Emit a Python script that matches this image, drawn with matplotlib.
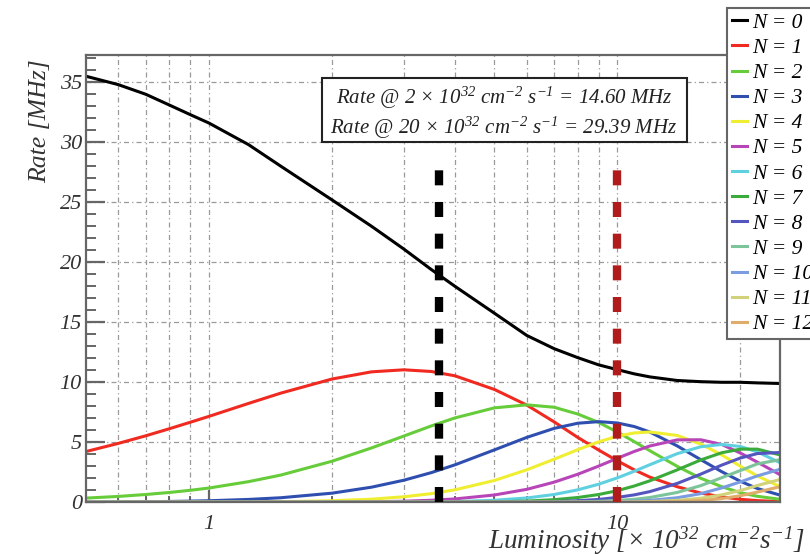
import matplotlib
matplotlib.use('Agg')
import matplotlib.pyplot as plt
from matplotlib.patches import Rectangle
from matplotlib.ticker import FixedLocator, FixedFormatter, NullFormatter

# ---------------- data ----------------
lumi = [0.5, 0.6, 0.7, 0.8, 0.9, 1.0, 1.25, 1.5, 2, 2.5, 3, 3.5, 4, 5, 6, 7, 8, 9,
        10, 11, 12, 14, 16, 18, 20, 22, 25]

rate_n0 = [35.5, 34.8, 34.0, 33.1, 32.3, 31.6, 29.8, 28.0, 25.2, 23.0, 21.1, 19.4, 18.0,
           15.75, 13.9, 12.8, 12.05, 11.45, 11.05, 10.7, 10.45, 10.15, 10.05, 10.0, 10.0, 9.95, 9.9]
rate_n1 = [4.23, 4.91, 5.54, 6.13, 6.67, 7.16, 8.24, 9.10, 10.27, 10.87, 11.04, 10.9, 10.54,
           9.40, 8.10, 6.70, 5.40, 4.35, 3.45, 2.70, 2.10, 1.30, 0.77, 0.45, 0.25, 0.14, 0.06]
rate_n2 = [0.35, 0.49, 0.65, 0.82, 1.0, 1.19, 1.72, 2.27, 3.42, 4.53, 5.52, 6.36, 7.03,
           7.87, 8.12, 7.92, 7.35, 6.65, 5.85, 5.05, 4.30, 3.0, 2.0, 1.3, 0.8, 0.5, 0.25]
rate_n3 = [0.02, 0.03, 0.05, 0.07, 0.10, 0.13, 0.24, 0.38, 0.76, 1.26, 1.84, 2.47, 3.12,
           4.37, 5.41, 6.16, 6.59, 6.72, 6.61, 6.31, 5.86, 4.70, 3.55, 2.55, 1.75, 1.15, 0.6]
rate_n4 = [0, 0, 0, 0, 0.01, 0.01, 0.02, 0.05, 0.13, 0.26, 0.46, 0.72, 1.04,
           1.82, 2.71, 3.59, 4.39, 5.04, 5.51, 5.78, 5.86, 5.57, 4.85, 3.95, 3.0, 2.2, 1.3]
rate_n5 = [0, 0, 0, 0, 0, 0, 0, 0, 0.02, 0.04, 0.09, 0.17, 0.28,
           0.61, 1.08, 1.68, 2.34, 3.02, 3.67, 4.24, 4.69, 5.20, 5.21, 4.82, 4.10, 3.35, 2.3]
rate_n6 = [0, 0, 0, 0, 0, 0, 0, 0, 0, 0.01, 0.02, 0.03, 0.06,
           0.17, 0.36, 0.65, 1.04, 1.51, 2.04, 2.59, 3.13, 4.05, 4.63, 4.82, 4.65, 4.20, 3.3]
rate_n7 = [0, 0, 0, 0, 0, 0, 0, 0, 0, 0, 0, 0.01, 0.01,
           0.04, 0.10, 0.22, 0.40, 0.65, 0.97, 1.36, 1.79, 2.70, 3.53, 4.13, 4.43, 4.43, 3.95]
rate_n8 = [0, 0, 0, 0, 0, 0, 0, 0, 0, 0, 0, 0, 0,
           0.01, 0.03, 0.06, 0.13, 0.24, 0.41, 0.62, 0.89, 1.57, 2.35, 3.10, 3.69, 4.06, 4.15]
rate_n9 = [0, 0, 0, 0, 0, 0, 0, 0, 0, 0, 0, 0, 0,
           0, 0.01, 0.02, 0.04, 0.08, 0.15, 0.25, 0.40, 0.82, 1.39, 2.05, 2.65, 3.2, 3.55]
rate_n10 = [0, 0, 0, 0, 0, 0, 0, 0, 0, 0, 0, 0, 0,
            0, 0, 0, 0.01, 0.02, 0.05, 0.09, 0.16, 0.38, 0.72, 1.2, 1.7, 2.2, 2.75]
rate_n11 = [0, 0, 0, 0, 0, 0, 0, 0, 0, 0, 0, 0, 0,
            0, 0, 0, 0, 0, 0.02, 0.03, 0.06, 0.16, 0.34, 0.62, 0.98, 1.4, 1.9]
rate_n12 = [0, 0, 0, 0, 0, 0, 0, 0, 0, 0, 0, 0, 0,
            0, 0, 0, 0, 0, 0, 0.01, 0.02, 0.06, 0.15, 0.31, 0.55, 0.85, 1.3]

series = [rate_n0, rate_n1, rate_n2, rate_n3, rate_n4, rate_n5, rate_n6,
          rate_n7, rate_n8, rate_n9, rate_n10, rate_n11, rate_n12]
labels = ["N = %d" % i for i in range(13)]
colors = ['#000000', '#f02a20', '#66cc3a', '#2f4fb0', '#f0ee30', '#b845b8', '#5fd0e0',
          '#3aaa3a', '#5555c0', '#7cc49a', '#7a9ce0', '#d2d27a', '#e0ac6a']

marker_lumi = [3.66, 10.0]
marker_colors = ['#000000', '#b01c1c']
marker_top = 27.8

x_major = [1, 10]
x_major_labels = ['1', '10']
x_minor = [0.6, 0.7, 0.8, 0.9, 2, 3, 4, 5, 6, 7, 8, 9, 20]
y_major = [0, 5, 10, 15, 20, 25, 30, 35]

info_lines = [r"Rate @ 2 $\times$ 10$^{32}$ cm$^{-2}$ s$^{-1}$ = 14.60 MHz",
              r"Rate @ 20 $\times$ 10$^{32}$ cm$^{-2}$ s$^{-1}$ = 29.39 MHz"]

# ---------------- style ----------------
plt.rcParams['font.family'] = ['Liberation Serif', 'DejaVu Serif']
plt.rcParams['font.style'] = 'italic'
plt.rcParams['mathtext.fontset'] = 'custom'
plt.rcParams['mathtext.rm'] = 'Liberation Serif:italic'
plt.rcParams['mathtext.it'] = 'Liberation Serif:italic'
plt.rcParams['mathtext.bf'] = 'Liberation Serif:italic:bold'

W, H = 810, 554
fig = plt.figure(figsize=(W / 100, H / 100), dpi=100)
ax = fig.add_axes([86 / W, 1 - 502.3 / H, (780 - 86) / W, (502.3 - 55) / H])
ax.set_xscale('log')
ax.set_xlim(0.5, 25)
ax.set_ylim(0, 37.27)

gridstyle = dict(color='#9a9a9a', lw=0.9, ls=(0, (4, 2.5, 1, 2.5)))
ax.xaxis.set_major_locator(FixedLocator(x_major))
ax.xaxis.set_major_formatter(FixedFormatter(x_major_labels))
ax.xaxis.set_minor_locator(FixedLocator(x_minor))
ax.xaxis.set_minor_formatter(NullFormatter())
ax.yaxis.set_major_locator(FixedLocator(y_major))
ax.yaxis.set_minor_locator(FixedLocator(list(range(0, 38))))
ax.grid(True, which='both', axis='x', **gridstyle)
ax.grid(True, which='major', axis='y', **gridstyle)
ax.set_axisbelow(True)

ax.tick_params(axis='y', which='major', direction='in', length=14, width=1.6,
               color='#666666', labelsize=16, labelcolor='#333333', pad=3)
ax.tick_params(axis='y', which='minor', direction='in', length=7.5, width=1.4, color='#666666')
ax.tick_params(axis='x', which='major', direction='in', length=9, width=1.6,
               color='#666666', labelsize=16, labelcolor='#333333', pad=9)
ax.tick_params(axis='x', which='minor', direction='in', length=4.5, width=1.4, color='#666666')
for s in ax.spines.values():
    s.set_color('#666666')
    s.set_linewidth(1.6)

handles = []
for vals, lab, col in zip(series, labels, colors):
    h, = ax.plot(lumi, vals, color=col, lw=2.2, label=lab, solid_joinstyle='round')
    handles.append(h)

for xm, cm in zip(marker_lumi, marker_colors):
    ax.plot([xm, xm], [0, marker_top], color=cm, lw=6, ls=(0, (1.8, 2.0)),
            dash_capstyle='butt', zorder=4)

# info box
fig.patches.append(Rectangle((322 / W, 1 - 142 / H), 365 / W, 64 / H, transform=fig.transFigure,
                             facecolor='white', edgecolor='#222222', lw=1.5, zorder=5))
fig.text(504 / W, 1 - 98 / H, info_lines[0], ha='center', va='center', fontsize=15,
         color='#222222', zorder=6)
fig.text(504 / W, 1 - 128 / H, info_lines[1], ha='center', va='center', fontsize=15,
         color='#222222', zorder=6)

# axis titles
fig.text(805 / W, 1 - 541 / H, r"Luminosity [$\times$ 10$^{32}$ cm$^{-2}$s$^{-1}$]",
         ha='right', va='center', fontsize=19.5, color='#333333')
fig.text(40 / W, 1 - 59 / H, "Rate [MHz]", rotation=90, ha='center', va='top',
         fontsize=18.5, color='#333333')

leg = ax.legend(handles=handles, loc='upper left', bbox_to_anchor=(727 / W, 1 - 8 / H),
                bbox_transform=fig.transFigure, borderaxespad=0, frameon=True,
                fancybox=False, framealpha=1, edgecolor='#666666', fontsize=15.5,
                handlelength=0.7, handletextpad=0.25, labelspacing=0.235, borderpad=0.22)
leg.get_frame().set_linewidth(1.5)
leg.set_zorder(10)

fig.savefig('out.png', dpi=100)
